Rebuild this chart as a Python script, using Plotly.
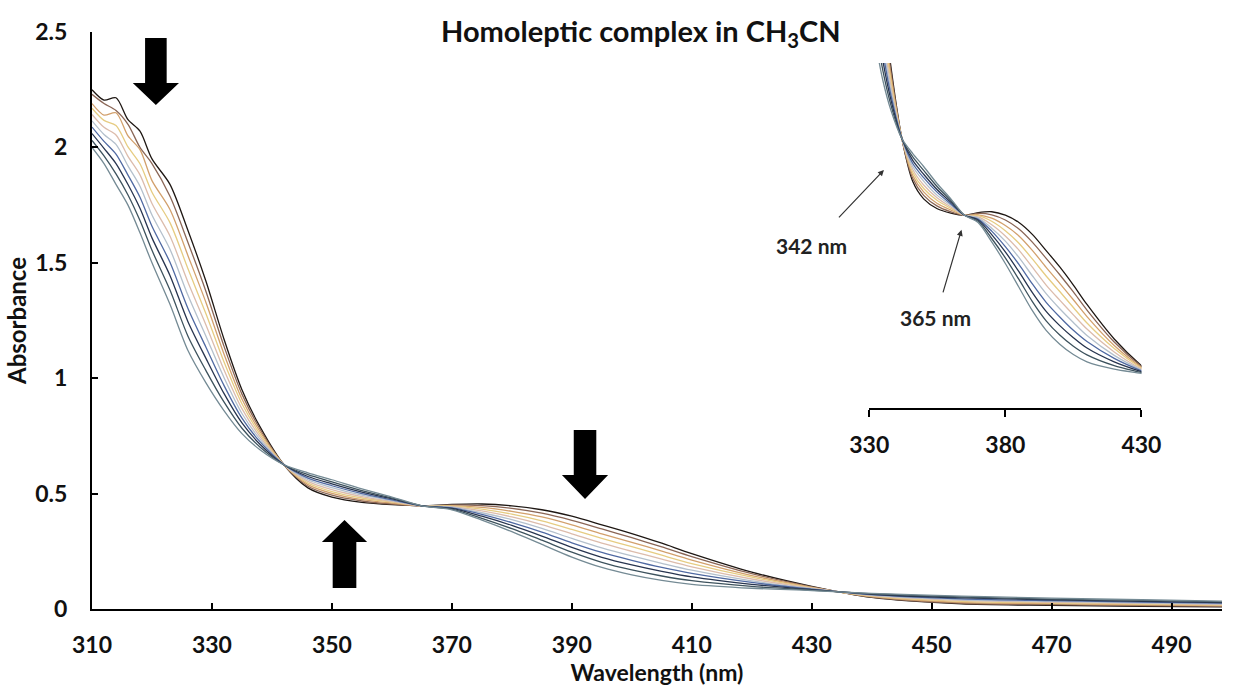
import plotly.graph_objects as go

# Wavelength grid (nm) shared by every spectrum
wavelength = [310, 312, 314, 316, 318, 320, 323, 326, 329, 332, 335, 338, 342, 346, 350,
              355, 360, 365, 370, 375, 380, 385, 390, 395, 400, 405, 410, 420, 430, 440,
              455, 470, 485, 500]

# Absorbance spectra recorded over time, first scan to last scan
scan_1 = [2.25, 2.205, 2.215, 2.12, 2.07, 1.95, 1.84, 1.64, 1.42, 1.17, 0.95, 0.79, 0.625, 0.525, 0.485,
          0.462, 0.452, 0.447, 0.453, 0.455, 0.447, 0.43, 0.402, 0.365, 0.327, 0.285, 0.24, 0.16, 0.098, 0.05,
          0.022, 0.016, 0.012, 0.009]
scan_2 = [2.23, 2.19, 2.16, 2.10, 2.00, 1.93, 1.788, 1.588, 1.376, 1.139, 0.931, 0.78, 0.624, 0.532, 0.493,
          0.468, 0.455, 0.447, 0.451, 0.448, 0.436, 0.415, 0.384, 0.347, 0.309, 0.269, 0.227, 0.153, 0.096, 0.052,
          0.025, 0.019, 0.015, 0.011]
scan_3 = [2.19, 2.14, 2.15, 2.05, 1.99, 1.856, 1.731, 1.531, 1.328, 1.105, 0.91, 0.769, 0.626, 0.539, 0.501,
          0.474, 0.459, 0.447, 0.448, 0.44, 0.423, 0.399, 0.365, 0.326, 0.289, 0.251, 0.212, 0.145, 0.094, 0.054,
          0.029, 0.023, 0.018, 0.014]
scan_4 = [2.17, 2.117, 2.095, 2.002, 1.929, 1.806, 1.674, 1.474, 1.279, 1.071, 0.889, 0.758, 0.625, 0.546, 0.509,
          0.481, 0.463, 0.447, 0.446, 0.433, 0.411, 0.382, 0.345, 0.306, 0.27, 0.233, 0.197, 0.138, 0.092, 0.056,
          0.033, 0.026, 0.021, 0.017]
scan_5 = [2.143, 2.087, 2.054, 1.961, 1.881, 1.757, 1.616, 1.416, 1.231, 1.037, 0.868, 0.747, 0.624, 0.553, 0.517,
          0.487, 0.466, 0.447, 0.443, 0.425, 0.399, 0.366, 0.326, 0.285, 0.25, 0.216, 0.183, 0.13, 0.09, 0.058,
          0.037, 0.029, 0.024, 0.019]
scan_6 = [2.115, 2.056, 2.013, 1.92, 1.832, 1.707, 1.559, 1.359, 1.182, 1.003, 0.847, 0.736, 0.625, 0.56, 0.526,
          0.493, 0.47, 0.447, 0.441, 0.417, 0.387, 0.349, 0.306, 0.265, 0.23, 0.198, 0.168, 0.122, 0.088, 0.06,
          0.04, 0.033, 0.027, 0.022]
scan_7 = [2.088, 2.026, 1.971, 1.88, 1.784, 1.658, 1.502, 1.302, 1.134, 0.969, 0.827, 0.725, 0.626, 0.567, 0.534,
          0.50, 0.473, 0.447, 0.438, 0.41, 0.374, 0.333, 0.287, 0.245, 0.211, 0.18, 0.154, 0.115, 0.086, 0.062,
          0.044, 0.036, 0.03, 0.025]
scan_8 = [2.06, 1.996, 1.93, 1.839, 1.736, 1.608, 1.445, 1.245, 1.086, 0.934, 0.806, 0.714, 0.625, 0.574, 0.542,
          0.506, 0.477, 0.447, 0.436, 0.402, 0.362, 0.316, 0.267, 0.224, 0.191, 0.163, 0.139, 0.107, 0.084, 0.064,
          0.048, 0.04, 0.033, 0.027]
scan_9 = [2.03, 1.963, 1.885, 1.794, 1.683, 1.554, 1.382, 1.182, 1.033, 0.897, 0.783, 0.702, 0.624, 0.582, 0.551,
          0.513, 0.481, 0.447, 0.433, 0.393, 0.348, 0.298, 0.246, 0.202, 0.169, 0.143, 0.123, 0.098, 0.082, 0.066,
          0.052, 0.043, 0.037, 0.03]
scan_10 = [2.00, 1.93, 1.84, 1.75, 1.63, 1.50, 1.32, 1.12, 0.98, 0.86, 0.76, 0.69, 0.625, 0.59, 0.56,
           0.52, 0.485, 0.447, 0.43, 0.385, 0.335, 0.28, 0.225, 0.18, 0.148, 0.124, 0.107, 0.09, 0.08, 0.068,
           0.056, 0.047, 0.04, 0.033]

scans = [scan_1, scan_2, scan_3, scan_4, scan_5, scan_6, scan_7, scan_8, scan_9, scan_10]
scan_colors = ["#1e1713", "#8a6656", "#d2a06c", "#e6cc82", "#dcbcac",
               "#b4c0cc", "#4f69a2", "#27344f", "#3d525d", "#748a94"]

x_ticks = [310, 330, 350, 370, 390, 410, 430, 450, 470, 490]
y_ticks = [0, 0.5, 1, 1.5, 2, 2.5]
inset_ticks = [330, 380, 430]

FONT = "Lato"
BOLD = dict(family=FONT, weight="bold", color="#111")

fig = go.Figure()

# main panel and magnified inset use the same spectra
for ys, col in zip(scans, scan_colors):
    fig.add_trace(go.Scatter(x=wavelength, y=ys, mode="lines",
                             line=dict(color=col, width=1.3, shape="spline", smoothing=0.8),
                             xaxis="x", yaxis="y", showlegend=False, hoverinfo="skip"))
for ys, col in zip(scans, scan_colors):
    fig.add_trace(go.Scatter(x=wavelength, y=ys, mode="lines",
                             line=dict(color=col, width=1.3, shape="spline", smoothing=0.8),
                             xaxis="x2", yaxis="y2", showlegend=False, hoverinfo="skip"))


def block_arrow(xc, half_shaft, half_head, y_tail, y_base, y_tip):
    return (f"M {xc - half_shaft},{y_tail} L {xc + half_shaft},{y_tail} "
            f"L {xc + half_shaft},{y_base} L {xc + half_head},{y_base} "
            f"L {xc},{y_tip} L {xc - half_head},{y_base} "
            f"L {xc - half_shaft},{y_base} Z")


shapes = [
    dict(type="path", xref="x", yref="y", fillcolor="black", line=dict(width=0),
         path=block_arrow(320.65, 1.8, 3.85, 2.474, 2.279, 2.184)),
    dict(type="path", xref="x", yref="y", fillcolor="black", line=dict(width=0),
         path=block_arrow(352.1, 1.97, 3.77, 0.091, 0.290, 0.386)),
    dict(type="path", xref="x", yref="y", fillcolor="black", line=dict(width=0),
         path=block_arrow(392.2, 1.88, 3.85, 0.776, 0.581, 0.477)),
]

LABEL_FONT = dict(size=21, family=FONT, weight="bold", color="#222")

annotations = [
    dict(text="Homoleptic complex in CH<sub>3</sub>CN", xref="paper", yref="paper",
         x=0.486, y=1.0, xanchor="center", yanchor="middle", showarrow=False,
         font=dict(size=29, **BOLD)),
    # isosbestic point labels with pointers into the inset
    dict(text="342 nm", xref="x2", yref="y2", x=335.4, y=0.552, ax=-72, ay=76,
         showarrow=True, arrowhead=2, arrowsize=1, arrowwidth=1.2, arrowcolor="#333",
         startstandoff=20, font=LABEL_FONT),
    dict(text="365 nm", xref="x2", yref="y2", x=363.9, y=0.413, ax=-26, ay=88,
         showarrow=True, arrowhead=2, arrowsize=1, arrowwidth=1.2, arrowcolor="#333",
         startstandoff=12, font=LABEL_FONT),
]

fig.update_layout(
    width=1242, height=686,
    margin=dict(l=92, r=0, t=32, b=77),
    paper_bgcolor="white", plot_bgcolor="white",
    shapes=shapes, annotations=annotations,
    xaxis=dict(range=[310, 498.4], tickvals=x_ticks, ticks="inside", ticklen=6, tickwidth=1.5,
               tickcolor="black", showline=True, linecolor="black", linewidth=2,
               showgrid=False, zeroline=False, ticklabelstandoff=14,
               tickfont=dict(size=23, **BOLD), automargin=False,
               title=dict(text="Wavelength (nm)", standoff=2, font=dict(size=23, **BOLD))),
    yaxis=dict(range=[0, 2.5], tickvals=y_ticks, ticktext=["0", "0.5", "1", "1.5", "2", "2.5"],
               ticks="inside", ticklen=6, tickwidth=1.5, tickcolor="black",
               showline=True, linecolor="black", linewidth=2,
               showgrid=False, zeroline=False, ticklabelstandoff=18,
               tickfont=dict(size=23, **BOLD), automargin=False,
               title=dict(text="Absorbance", standoff=2, font=dict(size=24, **BOLD))),
    xaxis2=dict(domain=[0.6878, 0.9287], anchor="y2", range=[330, 430], tickvals=inset_ticks,
                ticks="outside", ticklen=7, tickwidth=1.5, tickcolor="black",
                showline=True, linecolor="black", linewidth=2, showgrid=False, zeroline=False,
                ticklabelstandoff=8, tickfont=dict(size=23, **BOLD)),
    yaxis2=dict(domain=[0.3484, 0.9463], anchor="x2", range=[0, 0.8], visible=False),
)

fig.write_html("out.html")
